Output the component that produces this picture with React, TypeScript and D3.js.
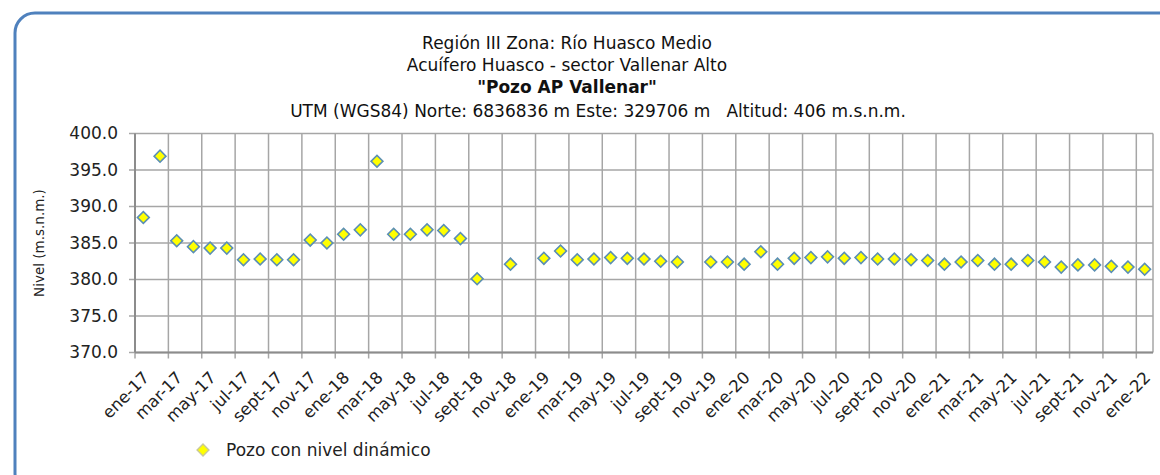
import React from 'react'
import * as d3 from 'd3'

// month abbreviations (spanish), years shown on the axis
const monthNames = ['ene', 'feb', 'mar', 'abr', 'may', 'jun', 'jul', 'ago', 'sept', 'oct', 'nov', 'dic']
const years = ['17', '18', '19', '20', '21', '22']
const months = years.flatMap(y => monthNames.map(m => `${m}-${y}`)).slice(0, 61)

// nivel dinamico (m.s.n.m.) per month, null = no measure
const levels = [
  388.5, 396.9, 385.3, 384.5, 384.3, 384.3, 382.7, 382.8, 382.7, 382.7, 385.4, 385.0,
  386.2, 386.8, 396.2, 386.2, 386.2, 386.8, 386.7, 385.6, 380.1, null, 382.1, null,
  382.9, 383.9, 382.7, 382.8, 383.0, 382.9, 382.8, 382.5, 382.4, null, 382.4, 382.4,
  382.1, 383.8, 382.1, 382.9, 383.0, 383.1, 382.9, 383.0, 382.8, 382.8, 382.7, 382.6,
  382.1, 382.4, 382.6, 382.1, 382.1, 382.6, 382.4, 381.7, 382.0, 382.0, 381.8, 381.7,
  381.4,
]

const yTicks = [370, 375, 380, 385, 390, 395, 400]

const titleLines = [
  'Región III Zona: Río Huasco Medio',
  'Acuífero Huasco - sector Vallenar Alto',
  '"Pozo AP Vallenar"',
]
const coordLine = 'UTM (WGS84) Norte: 6836836 m Este: 329706 m   Altitud: 406 m.s.n.m.'
const legendLabel = 'Pozo con nivel dinámico'

const W = 1160
const H = 475
const left = 135
const right = 1153
const top = 133.5
const bottom = 352.5
const font = '"DejaVu Sans", Verdana, sans-serif'

const App = () => {
  const x = d3.scaleBand<string>().domain(months).range([left, right]).padding(0)
  const y = d3.scaleLinear().domain([370, 400]).range([bottom, top])
  const bw = x.bandwidth()
  const diamond = d3.symbol().type(d3.symbolSquare).size(70)()

  const tickMonths = months.filter((_, i) => i % 2 === 0)

  return (
    <svg width={W} height={H} style={{ position: 'fixed', left: 0, top: 0, fontFamily: font }}>
      <rect x={0} y={0} width={W} height={H} fill="#fff" />
      <rect x={15} y={13} width={1165} height={480} rx={20} fill="#fff" stroke="#4f81bd" strokeWidth={3} />

      {titleLines.map((t, i) => (
        <text key={i} x={567} y={49 + i * 22} textAnchor="middle" fontSize={17}
          fontWeight={i === 2 ? 'bold' : 'normal'} fill="#111">{t}</text>
      ))}
      <text x={598} y={117} textAnchor="middle" fontSize={17} fill="#111" style={{ whiteSpace: 'pre' }}>{coordLine}</text>

      {/* horizontal grid */}
      {yTicks.map(v => (
        <g key={v}>
          <line x1={left - 6} x2={right} y1={y(v)} y2={y(v)} stroke="#a6a6a6" strokeWidth={1.5} />
          <text x={118} y={y(v)} dy="0.35em" textAnchor="end" fontSize={17} fill="#222">{v.toFixed(1)}</text>
        </g>
      ))}

      {/* vertical grid every 2 months */}
      {tickMonths.map(m => (
        <g key={m}>
          <line x1={x(m)} x2={x(m)} y1={top} y2={bottom + 6} stroke="#a6a6a6" strokeWidth={1.5} />
          <text transform={`translate(${x(m)! + 7},${bottom + 18}) rotate(-45)`} textAnchor="end"
            dy="0.7em" fontSize={16.5} fill="#222">{m}</text>
        </g>
      ))}
      <line x1={right} x2={right} y1={top} y2={bottom} stroke="#a6a6a6" strokeWidth={1.5} />

      {/* axes */}
      <line x1={left} x2={left} y1={top} y2={bottom} stroke="#8c8c8c" strokeWidth={2} />
      <line x1={left} x2={right} y1={bottom} y2={bottom} stroke="#8c8c8c" strokeWidth={2} />

      <text transform={`translate(44,${(top + bottom) / 2}) rotate(-90)`} textAnchor="middle"
        fontSize={13.5} fill="#222">Nivel (m.s.n.m.)</text>

      {levels.map((v, i) => v === null ? null : (
        <path key={i} d={diamond!}
          transform={`translate(${x(months[i])! + bw / 2},${y(v)}) rotate(45)`}
          fill="#ffff00" stroke="#5b8fb4" strokeWidth={1.6} />
      ))}

      {/* legend */}
      <path d={diamond!} transform="translate(203,450) rotate(45)" fill="#ffff00" stroke="#c9c99a" strokeWidth={1.4} />
      <text x={226} y={456} fontSize={17} fill="#222">{legendLabel}</text>
    </svg>
  )
}

export default App
